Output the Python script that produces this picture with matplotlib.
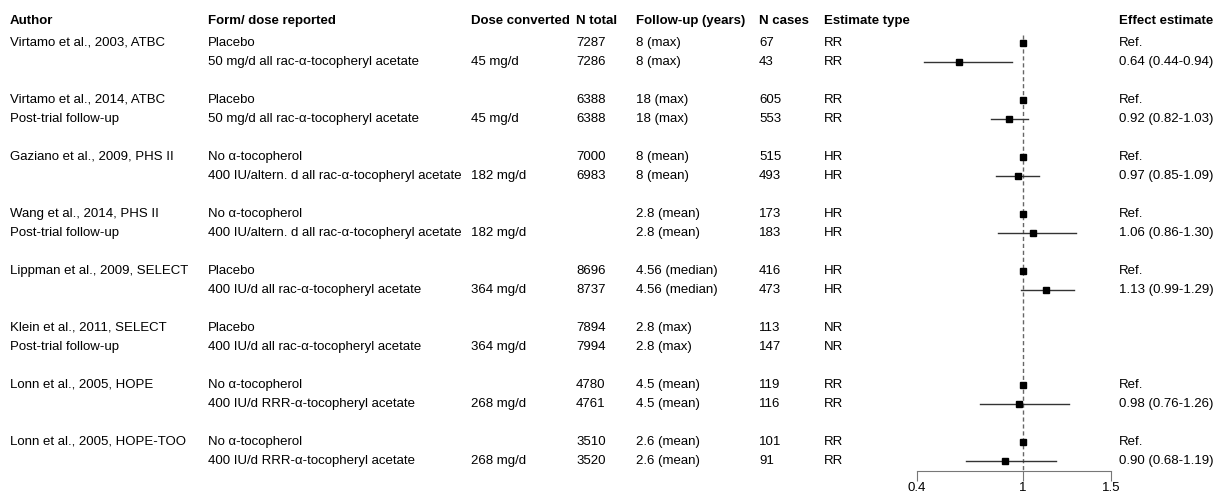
import matplotlib
matplotlib.use("Agg")
import matplotlib.pyplot as plt
from matplotlib.transforms import blended_transform_factory

plt.rcParams["font.family"] = ["Liberation Sans", "DejaVu Sans"]

# 研究（每组两行）
authors = ["Virtamo et al., 2003, ATBC", "Virtamo et al., 2014, ATBC",
           "Gaziano et al., 2009, PHS II", "Wang et al., 2014, PHS II",
           "Lippman et al., 2009, SELECT", "Klein et al., 2011, SELECT",
           "Lonn et al., 2005, HOPE", "Lonn et al., 2005, HOPE-TOO"]
author_sub = ["", "Post-trial follow-up", "", "Post-trial follow-up",
              "", "Post-trial follow-up", "", ""]

forms = ["Placebo", "50 mg/d all rac-\u03b1-tocopheryl acetate",
         "Placebo", "50 mg/d all rac-\u03b1-tocopheryl acetate",
         "No \u03b1-tocopherol", "400 IU/altern. d all rac-\u03b1-tocopheryl acetate",
         "No \u03b1-tocopherol", "400 IU/altern. d all rac-\u03b1-tocopheryl acetate",
         "Placebo", "400 IU/d all rac-\u03b1-tocopheryl acetate",
         "Placebo", "400 IU/d all rac-\u03b1-tocopheryl acetate",
         "No \u03b1-tocopherol", "400 IU/d RRR-\u03b1-tocopheryl acetate",
         "No \u03b1-tocopherol", "400 IU/d RRR-\u03b1-tocopheryl acetate"]
dose = ["", "45 mg/d", "", "45 mg/d", "", "182 mg/d", "", "182 mg/d",
        "", "364 mg/d", "", "364 mg/d", "", "268 mg/d", "", "268 mg/d"]
n_total = ["7287", "7286", "6388", "6388", "7000", "6983", "", "",
           "8696", "8737", "7894", "7994", "4780", "4761", "3510", "3520"]
followup = ["8 (max)", "8 (max)", "18 (max)", "18 (max)", "8 (mean)", "8 (mean)",
            "2.8 (mean)", "2.8 (mean)", "4.56 (median)", "4.56 (median)",
            "2.8 (max)", "2.8 (max)", "4.5 (mean)", "4.5 (mean)",
            "2.6 (mean)", "2.6 (mean)"]
n_cases = ["67", "43", "605", "553", "515", "493", "173", "183",
           "416", "473", "113", "147", "119", "116", "101", "91"]
est_type = ["RR", "RR", "RR", "RR", "HR", "HR", "HR", "HR",
            "HR", "HR", "NR", "NR", "RR", "RR", "RR", "RR"]

# 效应值（None = 未报告）
est = [1.0, 0.64, 1.0, 0.92, 1.0, 0.97, 1.0, 1.06,
       1.0, 1.13, None, None, 1.0, 0.98, 1.0, 0.90]
lower = [None, 0.44, None, 0.82, None, 0.85, None, 0.86,
         None, 0.99, None, None, None, 0.76, None, 0.68]
upper = [None, 0.94, None, 1.03, None, 1.09, None, 1.30,
         None, 1.29, None, None, None, 1.26, None, 1.19]

x_ticks = [0.4, 1, 1.5]
headers = ["Author", "Form/ dose reported", "Dose converted", "N total",
           "Follow-up (years)", "N cases", "Estimate type", "Effect estimate"]
col_x = [10, 208, 471, 576, 636, 759, 824, 1119]  # 像素

W, H = 1220, 496
fig = plt.figure(figsize=(W / 100, H / 100), dpi=100)

x0, x1 = 917, 1111
y_axis = 471
ax = fig.add_axes([x0 / W, (H - y_axis) / H, (x1 - x0) / W, y_axis / H])
row_h = 19.0
r_top = 1 - 42.7 / row_h
r_bot = 1 + (y_axis - 42.7) / row_h
ax.set_ylim(r_bot, r_top)
ax.set_xlim(0.4, 1.5)

for s in ["top", "left", "right"]:
    ax.spines[s].set_visible(False)
ax.spines["bottom"].set_color("#777777")
ax.set_yticks([])
ax.set_xticks(x_ticks)
ax.set_xticklabels(["0.4", "1", "1.5"])
ax.tick_params(axis="x", direction="out", length=7, color="#777777",
               labelsize=9.5, pad=1)
ax.patch.set_visible(False)

ax.plot([1, 1], [0.6, r_bot], ls=(0, (3, 2)), color="#666666", lw=1, clip_on=False)

rows = []
for g in range(len(authors)):
    rows += [1 + 3 * g, 2 + 3 * g]

for i, r in enumerate(rows):
    if est[i] is None:
        continue
    if lower[i] is not None:
        ax.plot([lower[i], upper[i]], [r, r], color="#333333", lw=1)
    ax.plot(est[i], r, marker="s", color="black", ms=4.3, ls="none", clip_on=False)

tr = blended_transform_factory(fig.transFigure, ax.transData)
fs = 9.5
hdr_r = 1 - 22 / row_h
for x, h in zip(col_x, headers):
    ax.text(x / W, hdr_r, h, transform=tr, fontsize=fs, fontweight="bold",
            va="center", ha="left")

for g in range(len(authors)):
    ax.text(col_x[0] / W, 1 + 3 * g, authors[g], transform=tr, fontsize=fs, va="center")
    if author_sub[g]:
        ax.text(col_x[0] / W, 2 + 3 * g, author_sub[g], transform=tr, fontsize=fs, va="center")

for i, r in enumerate(rows):
    if est[i] is None:
        eff = ""
    elif lower[i] is None:
        eff = "Ref."
    else:
        eff = f"{est[i]:.2f} ({lower[i]:.2f}-{upper[i]:.2f})"
    vals = [forms[i], dose[i], n_total[i], followup[i], n_cases[i], est_type[i], eff]
    for x, v in zip(col_x[1:], vals):
        if v:
            ax.text(x / W, r, v, transform=tr, fontsize=fs, va="center")

fig.savefig("out.png", dpi=100)
